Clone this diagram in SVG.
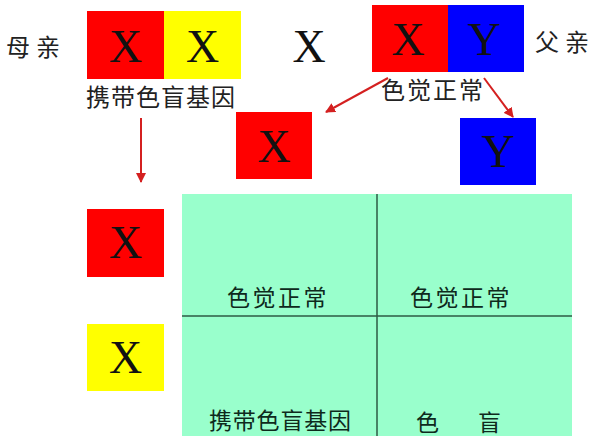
<svg xmlns="http://www.w3.org/2000/svg" width="600" height="442" viewBox="0 0 600 442">
<style>
.r{fill:#FF0000}.y{fill:#FFFF00}.b{fill:#0000FF}
.g{font-family:"Liberation Serif","Times New Roman",serif;font-size:46px;fill:#111;text-anchor:middle}
.c{font-family:"Noto Sans CJK SC","Noto Sans",sans-serif;font-size:24px;fill:#222}
.cg{font-family:"Noto Sans CJK SC","Noto Sans",sans-serif;font-size:23px;fill:#0E2A1C}
.arr{stroke:#D42020;stroke-width:2;fill:none;marker-end:url(#ah)}
.grid{stroke:#2E5A44;stroke-width:1.5}
</style>
<defs>
<marker id="ah" viewBox="0 0 10 10" refX="9" refY="5" markerWidth="5" markerHeight="5" orient="auto" markerUnits="strokeWidth">
<path d="M0,0 L10,5 L0,10 z" fill="#D42020"/>
</marker>
</defs>
<rect width="600" height="442" fill="#FFFFFF"/>
<g id="mother">
<rect class="r" x="87" y="11" width="77" height="68"/>
<rect class="y" x="164" y="11" width="77" height="68"/>
<text class="g" x="125.5" y="62">X</text>
<text class="g" x="202.5" y="62">X</text>
<text class="c" x="6" y="56" letter-spacing="6">母亲</text>
<text class="c" x="86" y="106" letter-spacing="1">携带色盲基因</text>
</g>
<g id="cross">
<text class="g" x="309" y="62">X</text>
</g>
<g id="father">
<rect class="r" x="372" y="5" width="76" height="67"/>
<rect class="b" x="448" y="5" width="76" height="67"/>
<text class="g" x="408" y="55">X</text>
<text class="g" x="484" y="55">Y</text>
<text class="c" x="535" y="51" letter-spacing="6">父亲</text>
<text class="c" x="381" y="99" font-size="23" letter-spacing="2">色觉正常</text>
</g>
<g id="father-x">
<rect class="r" x="236" y="112" width="76" height="67"/>
<text class="g" x="274" y="162">X</text>
</g>
<g id="father-y">
<rect class="b" x="460" y="118" width="76" height="67"/>
<text class="g" x="498" y="167">Y</text>
</g>
<g id="mother-x1">
<rect class="r" x="87" y="209" width="77" height="68"/>
<text class="g" x="125.5" y="258">X</text>
</g>
<g id="mother-x2">
<rect class="y" x="87" y="324" width="77" height="67"/>
<text class="g" x="125.5" y="373">X</text>
</g>
<g id="grid">
<rect x="182" y="194" width="390" height="242" fill="#99FFCC"/>
<line class="grid" x1="377" y1="194" x2="377" y2="436"/>
<line class="grid" x1="182" y1="316" x2="572" y2="316"/>
<text class="cg" x="227" y="306" letter-spacing="2.5">色觉正常</text>
<text class="cg" x="410" y="306" letter-spacing="2.5">色觉正常</text>
<text class="cg" x="209" y="429" font-size="24" letter-spacing="0.8">携带色盲基因</text>
<text class="cg" x="416" y="431" font-size="24"><tspan>色</tspan><tspan x="478">盲</tspan></text>
</g>
<g id="connectors">
<line class="arr" x1="141" y1="118" x2="141" y2="182"/>
<line class="arr" x1="388" y1="78" x2="326" y2="112"/>
<line class="arr" x1="484" y1="78" x2="513" y2="117"/>
</g>
</svg>
